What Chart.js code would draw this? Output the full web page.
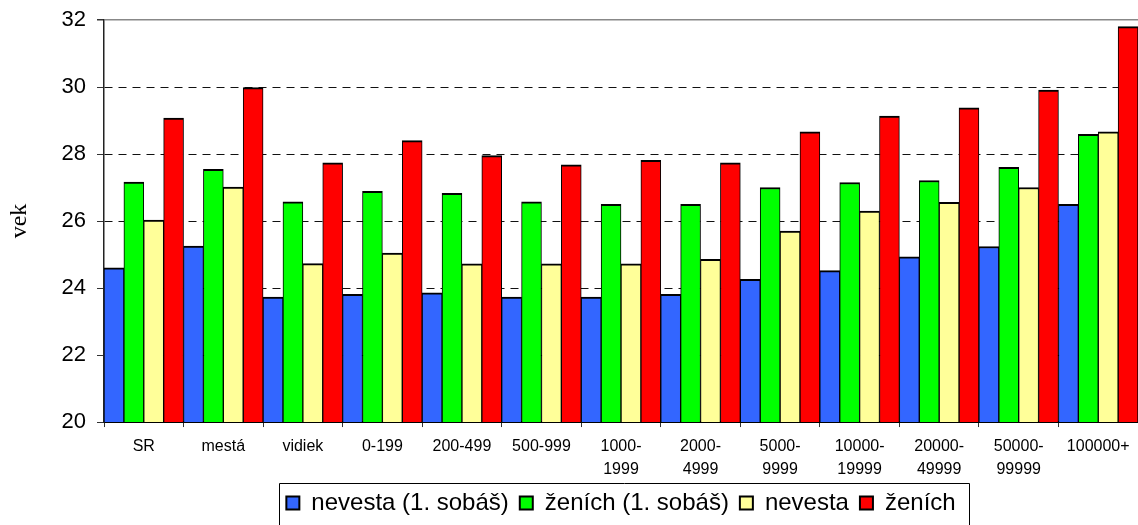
<!DOCTYPE html>
<html>
<head>
<meta charset="utf-8">
<script src="https://cdn.jsdelivr.net/npm/chart.js@4/dist/chart.umd.min.js"></script>
<style>
  html, body { margin: 0; padding: 0; background: #fff; }
  canvas { display: block; }
</style>
</head>
<body>
<canvas id="c" width="1138" height="525"></canvas>
<script>
// ---- data ----
const categories = [
  'SR', 'mestá', 'vidiek', '0-199', '200-499', '500-999',
  ['1000-', '1999'], ['2000-', '4999'], ['5000-', '9999'],
  ['10000-', '19999'], ['20000-', '49999'], ['50000-', '99999'], '100000+'
];
const seriesNames = ['nevesta (1. sobáš)', 'ženích (1. sobáš)', 'nevesta', 'ženích'];
const nevesta1 = [24.6, 25.25, 23.73, 23.81, 23.86, 23.73, 23.73, 23.81, 24.26, 24.52, 24.93, 25.24, 26.5];
const zenich1  = [27.16, 27.54, 26.57, 26.89, 26.83, 26.57, 26.5, 26.5, 27.0, 27.15, 27.21, 27.6, 28.59];
const nevesta  = [26.03, 27.01, 24.73, 25.04, 24.72, 24.72, 24.72, 24.86, 25.7, 26.3, 26.56, 27.0, 28.66];
const zenich   = [29.07, 29.98, 27.74, 28.4, 27.95, 27.68, 27.81, 27.74, 28.66, 29.13, 29.38, 29.91, 31.8];
const yTicks = { min: 20, max: 32, step: 2 };
const yTitle = 'vek';

const colors = ['#3366FF', '#00FF00', '#FFFF99', '#FF0000'];
const seriesData = [nevesta1, zenich1, nevesta, zenich];

const legendBoxPlugin = {
  id: 'legendBox',
  afterDraw(chart) {
    const lg = chart.legend;
    if (!lg || !lg.legendHitBoxes || !lg.legendHitBoxes.length) return;
    const hb = lg.legendHitBoxes;
    const first = hb[0], last = hb[hb.length - 1];
    const ctx = chart.ctx;
    const left = first.left - 7.5;
    const right = last.left + last.width + 13;
    const top = first.top + first.height / 2 - 20;
    ctx.save();
    ctx.strokeStyle = '#000';
    ctx.lineWidth = 1;
    ctx.beginPath();
    ctx.moveTo(Math.round(left) + 0.5, 540);
    ctx.lineTo(Math.round(left) + 0.5, Math.round(top) + 0.5);
    ctx.lineTo(Math.round(right) + 0.5, Math.round(top) + 0.5);
    ctx.lineTo(Math.round(right) + 0.5, 540);
    ctx.stroke();
    ctx.restore();
  }
};

new Chart(document.getElementById('c'), {
  type: 'bar',
  data: {
    labels: categories,
    datasets: seriesNames.map((name, i) => ({
      label: name,
      data: seriesData[i],
      backgroundColor: colors[i],
      borderColor: '#000',
      borderWidth: { top: 2, left: 1, right: 1, bottom: 0 },
      borderSkipped: false,
      categoryPercentage: 1.0,
      barPercentage: 1.0
    }))
  },
  plugins: [legendBoxPlugin],
  options: {
    responsive: false,
    animation: false,
    devicePixelRatio: 1,
    layout: { padding: { top: 20, right: 0, bottom: 0, left: 0 } },
    plugins: {
      tooltip: { enabled: false },
      legend: {
        position: 'bottom',
        fullSize: false,
        labels: {
          color: '#000',
          font: { family: "'Liberation Sans', Arial, sans-serif", size: 24 },
          boxWidth: 13,
          boxHeight: 13,
          padding: 11,
          generateLabels(chart) {
            return chart.data.datasets.map((ds, i) => ({
              text: ds.label,
              fillStyle: ds.backgroundColor,
              strokeStyle: '#000',
              lineWidth: 2,
              fontColor: '#000',
              hidden: false,
              datasetIndex: i
            }));
          }
        }
      }
    },
    scales: {
      x: {
        afterFit(scale) { scale.height = scale.height - 8.5; },
        grid: {
          offset: true,
          drawOnChartArea: false,
          drawTicks: true,
          tickLength: 5,
          color: '#000',
          tickColor: '#333'
        },
        border: { display: true, color: '#000', width: 2 },
        ticks: {
          color: '#000',
          padding: 8,
          maxRotation: 0,
          autoSkip: false,
          font: { family: "'Liberation Sans', Arial, sans-serif", size: 16, lineHeight: 1.42 }
        }
      },
      y: {
        min: yTicks.min,
        max: yTicks.max,
        afterFit(scale) { scale.width = 104; },
        ticks: {
          stepSize: yTicks.step,
          color: '#000',
          padding: 11,
          font: { family: "'Liberation Sans', Arial, sans-serif", size: 22, lineHeight: 0.75 }
        },
        grid: {
          color: (ctx) => (ctx.tick && ctx.tick.value === yTicks.max) ? '#888' : '#111',
          lineWidth: (ctx) => (ctx.tick && ctx.tick.value === yTicks.max) ? 1.5 : 1,
          tickLength: 7,
          tickColor: '#333',
          drawTicks: true
        },
        border: {
          display: true,
          color: '#222',
          width: 1.5,
          dash: (ctx) => (ctx.tick && ctx.tick.value === yTicks.max) ? [] : [8, 6]
        },
        title: {
          display: true,
          text: yTitle,
          color: '#000',
          font: { family: "'Liberation Serif', 'Times New Roman', serif", size: 24 },
          padding: { top: 5, bottom: 0 }
        }
      }
    }
  }
});
</script>
</body>
</html>
